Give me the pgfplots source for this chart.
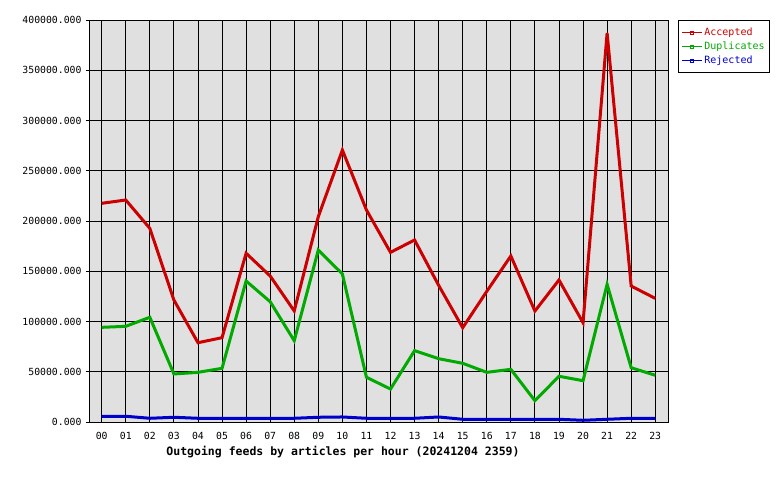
\documentclass[border=0pt]{standalone}
\usepackage{pgfplots}
\pgfplotsset{compat=1.18}
\usepackage{fontspec}
\setmainfont{DejaVu Sans Mono}
\setmonofont{DejaVu Sans Mono}
\definecolor{acc}{RGB}{204,0,0}
\definecolor{dup}{RGB}{0,170,0}
\definecolor{rej}{RGB}{0,0,204}
\definecolor{bg}{RGB}{224,224,224}
\pgfplotstableread{
h acc dup rej
0 217600 94200 5700
1 220900 95200 5700
2 192700 104200 3700
3 121400 47800 4700
4 78900 49400 3700
5 83900 53400 3700
6 167900 140300 3700
7 145300 119700 3700
8 110500 80900 3700
9 204300 171100 4700
10 270600 147300 5000
11 211000 44500 3700
12 168800 32800 3700
13 181100 71000 3700
14 136000 63000 5000
15 93800 58400 2700
16 130000 49400 2700
17 165200 52400 2700
18 110400 21200 2700
19 141300 45500 2700
20 98800 41100 1700
21 387000 137000 2700
22 135300 54000 3700
23 123000 46500 3700
}\datatable
\begin{document}
\begin{tikzpicture}[x=1pt,y=1pt]
\path[use as bounding box] (0,0) rectangle (780,480);
\begin{axis}[
  at={(90pt,58pt)}, anchor=south west,
  width=578pt, height=402pt, scale only axis,
  xmin=-0.486, xmax=23.53, ymin=0, ymax=400000,
  axis background/.style={fill=bg},
  xtick={0,...,23},
  xticklabels={00,01,02,03,04,05,06,07,08,09,10,11,12,13,14,15,16,17,18,19,20,21,22,23},
  ytick={0,50000,100000,150000,200000,250000,300000,350000,400000},
  yticklabels={0.000,50000.000,100000.000,150000.000,200000.000,250000.000,300000.000,350000.000,400000.000},
  scaled y ticks=false,
  ytick pos=left,
  grid=major, grid style={black, line width=0.9pt},
  axis line style={black, line width=1pt},
  tick align=outside,
  xtick style={draw=none},
  ytick style={black, line width=0.9pt},
  major tick length=4pt,
  tick label style={font=\fontsize{9.8}{12}\selectfont},
  xticklabel style={yshift=-3pt},
  yticklabel style={xshift=-1pt},
  legend style={at={(1.0173,1)}, anchor=north west, draw=black, line width=0.8pt,
    font=\fontsize{10}{12}\selectfont, inner xsep=3pt, inner ysep=5.5pt, row sep=1pt,
    cells={anchor=west}},
  legend cell align=left,
  legend image code/.code={%
    \draw[#1, line width=1pt] (0pt,0pt) -- (20pt,0pt);
    \draw[#1, line width=0.8pt] (8.5pt,-1.5pt) rectangle (11.5pt,1.5pt);},
]
\addplot[acc, line width=3pt] table[x=h, y=acc] {\datatable};
\addlegendentry{\textcolor{acc}{Accepted}}
\addplot[dup, line width=3pt] table[x=h, y=dup] {\datatable};
\addlegendentry{\textcolor{dup}{Duplicates}}
\addplot[rej, line width=3pt] table[x=h, y=rej] {\datatable};
\addlegendentry{\textcolor{rej}{Rejected}}
\end{axis}
\node[font=\bfseries\fontsize{11.5}{13}\selectfont] at (343,28) {Outgoing feeds by articles per hour (20241204 2359)};
\end{tikzpicture}
\end{document}
